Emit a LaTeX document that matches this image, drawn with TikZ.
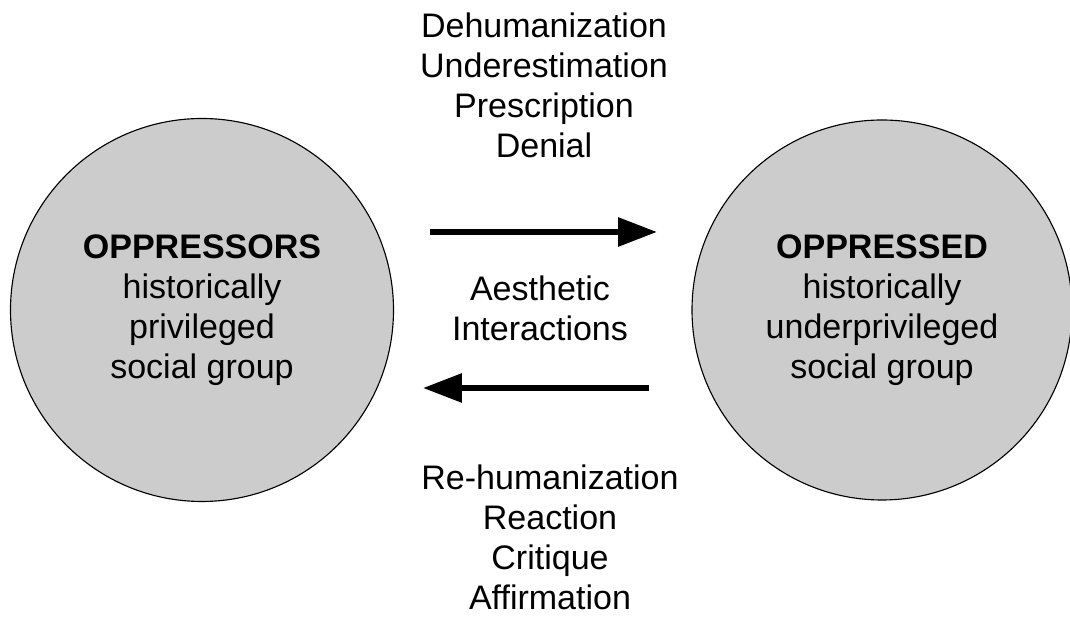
\documentclass[tikz,border=0pt]{standalone}
\usepackage{fontspec}
\setmainfont{Liberation Sans}
\usetikzlibrary{positioning,arrows.meta}
\definecolor{groupgray}{HTML}{CCCCCC}

\begin{document}
\begin{tikzpicture}[
    group/.style={circle, draw, line width=0.8pt, fill=groupgray, inner sep=0pt, align=center, font=\fontsize{24.2pt}{28.45pt}\selectfont},
    lbl/.style={align=center, font=\fontsize{24.2pt}{28.45pt}\selectfont},
    flow/.style={line width=4.3pt, -{Triangle[length=27.7pt,width=19.9pt]}}
]
  \useasboundingbox (0.000,0.000) rectangle (26.750,15.450);
  % Social groups
  \node[group, minimum size=9.575cm] (oppressors) at (5.050,7.700) {\textbf{OPPRESSORS}\\historically\\privileged\\social group};
  \node[group, minimum size=9.500cm] (oppressed) at (22.050,7.700) {\textbf{OPPRESSED}\\historically\\underprivileged\\social group};
  % Arrow ends
  \coordinate (fwdA) at (10.750,9.650);
  \coordinate (fwdB) at (16.425,9.650);
  \coordinate (backA) at (16.225,5.750);
  \coordinate (backB) at (10.575,5.750);
  % Interaction arrows
  \draw[flow] (fwdA) -- (fwdB);
  \draw[flow] (backA) -- (backB);
  % Labels
  \node[lbl] (interactions) at (13.500,7.750) {Aesthetic\\Interactions};
  \node[lbl] (forward) at (13.600,13.325) {Dehumanization\\Underestimation\\Prescription\\Denial};
  \node[lbl] (backward) at (13.750,2.025) {Re-humanization\\Reaction\\Critique\\Affirmation};
\end{tikzpicture}
\end{document}
